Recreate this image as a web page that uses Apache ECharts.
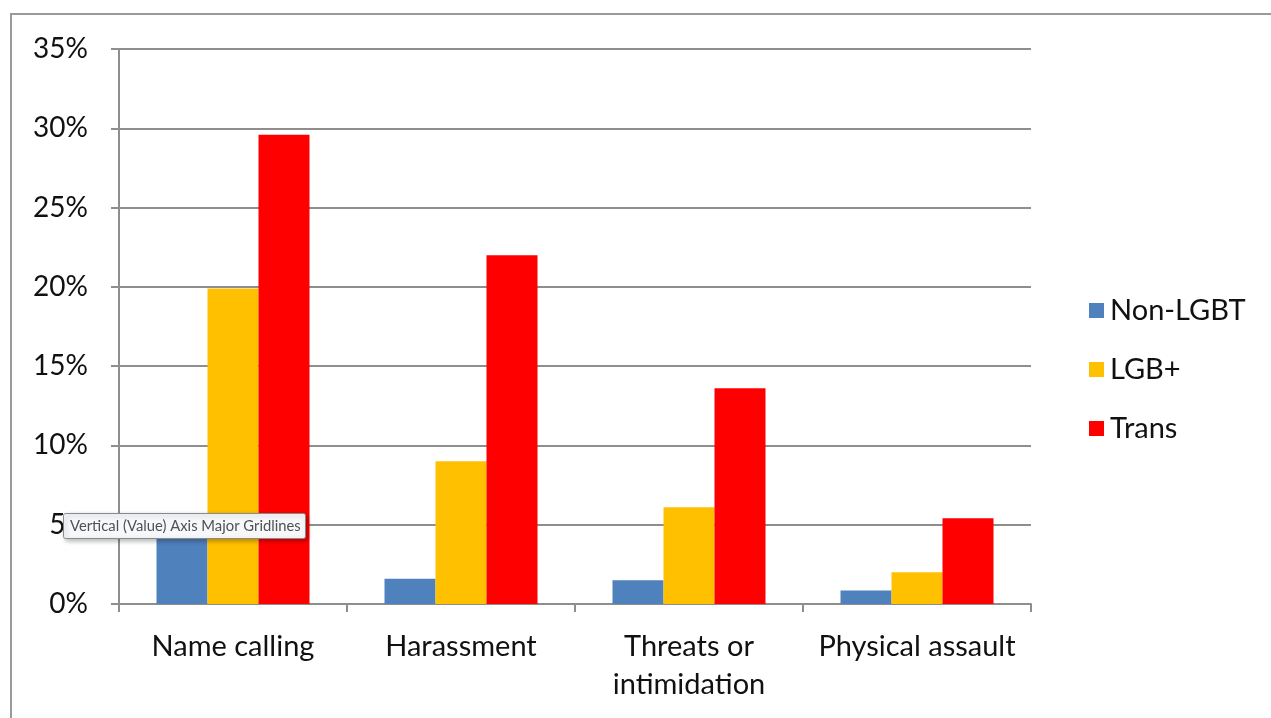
<!DOCTYPE html>
<html>
<head>
<meta charset="utf-8">
<script src="https://cdn.jsdelivr.net/npm/echarts@6/dist/echarts.min.js"></script>
<style>
  html, body { margin: 0; padding: 0; background: #ffffff; }
  #chart { width: 1271px; height: 718px; }
</style>
</head>
<body>
<div id="chart"></div>
<script>
// Incident categories and share of respondents (%) per group
const categories = ['Name calling', 'Harassment', 'Threats or\nintimidation', 'Physical assault'];
const nonLgbt = [4.8, 1.6, 1.5, 0.85];
const lgbPlus = [19.9, 9.0, 6.1, 2.0];
const trans = [29.6, 22.0, 13.6, 5.4];
const seriesNames = ['Non-LGBT', 'LGB+', 'Trans'];
const seriesColors = ['#4f81bd', '#ffc000', '#ff0000'];

const FONT = 'Lato, "Open Sans", sans-serif';
const TEXT = '#111111';
const gridColor = '#8e8e8e';

const chart = echarts.init(document.getElementById('chart'), null, { renderer: 'canvas' });

const makeBar = (name, data, color) => ({
  name,
  type: 'bar',
  data,
  barWidth: 51,
  barGap: '0%',
  itemStyle: { color },
  emphasis: { disabled: true }
});

chart.setOption({
  animation: false,
  backgroundColor: '#ffffff',
  grid: { left: 119, right: 240, top: 49, bottom: 114, containLabel: false },
  legend: {
    orient: 'vertical',
    left: 1084,
    top: 291,
    itemWidth: 15,
    itemHeight: 15,
    itemGap: 30,
    icon: 'rect',
    textStyle: { fontFamily: FONT, fontSize: 29, color: TEXT, padding: [0, 0, 0, 1] },
    data: seriesNames
  },
  xAxis: {
    type: 'category',
    data: categories,
    axisLine: { lineStyle: { color: gridColor, width: 2 } },
    axisTick: { show: true, length: 8, lineStyle: { color: gridColor, width: 2 } },
    axisLabel: {
      fontFamily: FONT, fontSize: 29, color: TEXT,
      margin: 24, lineHeight: 38, interval: 0
    }
  },
  yAxis: {
    type: 'value',
    min: 0,
    max: 35,
    interval: 5,
    axisLine: { show: true, lineStyle: { color: gridColor, width: 2 } },
    axisTick: { show: true, length: 8, lineStyle: { color: gridColor, width: 2 } },
    splitLine: { lineStyle: { color: gridColor, width: 2 } },
    axisLabel: {
      fontFamily: FONT, fontSize: 28, color: TEXT, margin: 31,
      formatter: v => v + '%'
    }
  },
  series: [
    makeBar(seriesNames[0], nonLgbt, seriesColors[0]),
    makeBar(seriesNames[1], lgbPlus, seriesColors[1]),
    makeBar(seriesNames[2], trans, seriesColors[2])
  ],
  graphic: [
    {
      // chart frame
      type: 'rect',
      silent: true,
      shape: { x: 11, y: 14, width: 1300, height: 760 },
      style: { fill: 'none', stroke: '#9a9a9a', lineWidth: 2 },
      zlevel: 1
    },
    {
      // hover hint box over the 5% gridline
      type: 'rect',
      silent: true,
      zlevel: 2,
      z: 10,
      shape: { x: 63.5, y: 513.5, width: 242, height: 25, r: 2 },
      style: {
        fill: '#f7f8fb',
        stroke: '#8a8a8a',
        lineWidth: 1,
        shadowBlur: 5,
        shadowOffsetX: 2,
        shadowOffsetY: 2,
        shadowColor: 'rgba(0,0,0,0.3)'
      }
    },
    {
      type: 'text',
      silent: true,
      zlevel: 2,
      z: 11,
      x: 70,
      y: 526,
      style: {
        text: 'Vertical (Value) Axis Major Gridlines',
        fontFamily: 'Lato, "Open Sans", sans-serif',
        fontSize: 14.8,
        fill: '#505050',
        verticalAlign: 'middle'
      }
    }
  ]
});
</script>
</body>
</html>
